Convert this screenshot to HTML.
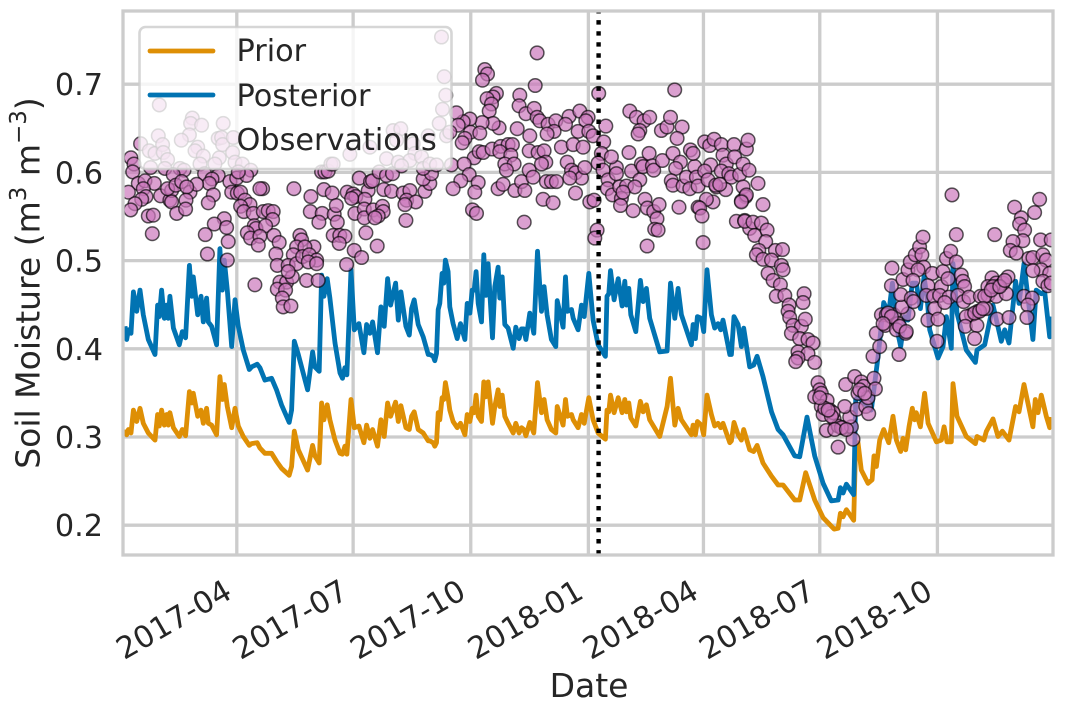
<!DOCTYPE html>
<html lang="en">
<head>
<meta charset="utf-8">
<title>Soil Moisture</title>
<style>
html,body{margin:0;padding:0;background:#fff;width:1065px;height:706px;overflow:hidden}
svg{display:block}
text{font-family:"DejaVu Sans","Liberation Sans",sans-serif;fill:#262626}
</style>
</head>
<body>
<svg id="chart" xmlns="http://www.w3.org/2000/svg" width="1065" height="706" viewBox="0 0 1065 706">
<defs><clipPath id="plot-clip"><rect x="123" y="11" width="930" height="544"/></clipPath></defs>
<g id="grid"></g>
<g id="marks" clip-path="url(#plot-clip)"></g>
<g id="frame"></g>
<g id="yticks"></g>
<g id="xticks"></g>
<text x="589" y="697" font-size="33" text-anchor="middle">Date</text>
<text transform="translate(39.5,283) rotate(-90)" font-size="33" text-anchor="middle">Soil Moisture (m<tspan font-size="23" dy="-13.5">3</tspan><tspan dy="13.5"> m</tspan><tspan font-size="23" dy="-13.5">−3</tspan><tspan dy="13.5">)</tspan></text>
<g>
<rect x="139.5" y="27" width="312" height="142" rx="6" fill="#fff" fill-opacity="0.8" stroke="#ccc" stroke-opacity="0.8" stroke-width="2.6"/>
<line x1="150" x2="213" y1="51" y2="51" stroke="#de8f05" stroke-width="4.8" stroke-linecap="round"/>
<text x="236.5" y="61" font-size="30.3">Prior</text>
<line x1="150" x2="213" y1="95" y2="95" stroke="#0173b2" stroke-width="4.8" stroke-linecap="round"/>
<text x="236.5" y="106" font-size="30.3">Posterior</text>
<text x="236.5" y="150" font-size="30.3">Observations</text>
</g>
</svg>
<script>
const yTickValues = [0.2, 0.3, 0.4, 0.5, 0.6, 0.7];
const yTickLabels = ["0.2", "0.3", "0.4", "0.5", "0.6", "0.7"];
const xTickDays = [89, 180, 272, 364, 454, 545, 637];
const xTickLabels = ["2017-04", "2017-07", "2017-10", "2018-01", "2018-04", "2018-07", "2018-10"];
const eventDay = 372;

const coreDays = [1.6,2.9,4.2,6.25,8.1,10.7,13.3,15.9,19.8,25,27.1,28.4,30.2,32.3,34.1,35.4,36.7,39.4,44,46.4,49,51.9,53.7,55,58.4,61,62.8,65.4,66.7,69.3,73.2,75.8,77.7,79.2,81.6,85,87.6,90.2,94.1,98.8,100.6,105,107.1,111,116.2,120.1,124,130,131.9,134,137.1,144.4,148.3,150.1,153.5,155.3,157.1,159.7,161.8,165.8,169.7,171.7,173.6,175.1,178.3,180.9,184.5,188.4,190.5,193.1,195.2,199.1,201.7,204.3,207,209.3,213.2,215.3,217.4,221.3,223.9,225.7,227.8,230.9,234.8,238.7,
240,242.6,243.9,245.2,246.5,247.8,249.6,250.9,252.2,254.3,255.6,258.2,261.4,264,267.4,269.2,271.3,273.1,274.7,276.2,277.8,280.4,282.2,283.8,285.6,289,290.8,293.4,294.7,296.6,298.6,301.2,305.2,307.2,309.8,311.7,313.5,315.1,318.2,321.3,324.2,327.3,329.4,331.7,335.1,338.5,339.6,344.2,346.1,347.6,350.8,352.1,356,358.6,360.7,364.3,367.7,371.6,377.3,378.6,380,381.3,384.1,387.3,390.4,392.5,393.8,395.6,397.2,401.1,404.7,406.8,409.4,412,419.8,425.6,428.2,431.6,434.2,436.8,444.6,445.9,447.7,449.3,452.4,454.2,456.8,460.2,462.8,465.4,467.5,469.3,474.6,475.9,477.9,481.1,483.7,485.5,490.2];

const priorCore = [.310,.304,.310,.306,.332,.319,.334,.317,.306,.298,.327,.314,.332,.315,.327,.315,.329,.312,.302,.310,.303,.353,.340,.351,.325,.332,.317,.334,.317,.315,.304,.370,.344,.361,.336,.312,.334,.314,.302,.292,.294,.295,.289,.283,.283,.274,.266,.258,.268,.308,.287,.264,.292,.280,.272,.340,.321,.338,.321,.298,.283,.282,.291,.282,.344,.312,.314,.295,.315,.300,.310,.291,.321,.302,.340,.325,.341,.319,.337,.312,.310,.325,.330,.310,.306,.297,
.297,.295,.291,.295,.329,.321,.346,.344,.363,.346,.332,.319,.312,.317,.304,.327,.319,.334,.329,.349,.325,.319,.364,.347,.364,.317,.336,.355,.336,.349,.325,.317,.306,.317,.306,.312,.310,.303,.318,.306,.363,.329,.344,.321,.310,.306,.336,.315,.344,.325,.327,.321,.312,.327,.317,.346,.321,.306,.299,.332,.330,.349,.329,.346,.329,.344,.330,.340,.323,.314,.342,.330,.338,.321,.302,.336,.368,.315,.334,.321,.304,.315,.304,.319,.315,.304,.349,.327,.314,.317,.312,.317,.295,.297,.318,.304,.298,.310,.287];

const posteriorCore = [.427,.412,.423,.419,.466,.444,.468,.440,.412,.395,.451,.438,.468,.436,.451,.436,.461,.425,.406,.421,.414,.496,.461,.483,.440,.461,.432,.459,.432,.427,.406,.515,.468,.502,.468,.404,.457,.427,.400,.378,.381,.384,.380,.366,.368,.355,.338,.318,.332,.410,.395,.355,.398,.381,.376,.485,.461,.481,.459,.408,.374,.368,.380,.372,.491,.423,.430,.397,.429,.419,.432,.397,.449,.427,.481,.451,.476,.434,.466,.427,.417,.447,.457,.429,.415,.395,
.395,.393,.388,.396,.446,.453,.487,.476,.502,.489,.449,.430,.413,.430,.412,.453,.442,.468,.468,.489,.453,.432,.508,.462,.498,.414,.472,.494,.459,.483,.429,.425,.402,.426,.413,.424,.424,.412,.442,.419,.512,.444,.472,.440,.412,.404,.456,.426,.483,.444,.446,.436,.423,.451,.438,.487,.434,.406,.393,.461,.464,.490,.457,.481,.450,.478,.451,.470,.440,.421,.479,.455,.470,.436,.398,.399,.476,.436,.470,.440,.406,.429,.413,.438,.436,.421,.491,.440,.425,.430,.423,.434,.395,.395,.438,.429,.404,.425,.381];

const priorTailDays = [493.3,495.95,500.6,507.2,512.4,516.3,525.4,529.3,534,541,547.6,556.2,559.3,561.1,563.2,565.8,571.5,573.1,574.9,577.5,582.7,585.9,587.4,589.3,591.9,595,598.9,602.3,604.9,608.3,610.1,612.2,614.8,617.4,619.2,620.5,623.7,627,629.7,636.2,640.1,642.2,644.5,647.9,649.2,652.3,659.6,666.7,668,673.4,675.3,680.5,684.4,687.8,693,698.2,700.8,704.7,711.7,713.6,715.7,718.3,722.2,724.8,726.1];
const priorTail = [.285,.292,.272,.257,.247,.247,.230,.230,.261,.230,.210,.197,.198,.215,.211,.219,.207,.295,.295,.264,.249,.253,.280,.268,.298,.310,.295,.325,.298,.285,.300,.287,.313,.334,.321,.329,.313,.351,.317,.296,.298,.313,.296,.296,.362,.325,.302,.294,.302,.298,.308,.322,.302,.308,.298,.336,.330,.361,.313,.344,.329,.349,.325,.312,.324];

const posteriorTailDays = [493.3,495.95,500.6,507.2,512.4,516.3,525.4,529.3,535,541,547.6,554,559.3,561.1,563.2,565.8,571.5,573.1,574.9,585.3,590.6,595,598.9,601.8,604.9,608.3,611.4,614,617.4,620.5,623.7,626.5,628.9,631,637.5,641.4,644,647.9,649.2,652.3,659.6,666.7,668,674,680.5,687,689.6,693,698.2,700.8,704.7,711.7,714.3,718.3,720.9,724.8,726.1];
const posteriorTail = [.383,.393,.370,.330,.310,.304,.280,.279,.324,.280,.249,.229,.230,.244,.238,.248,.236,.344,.347,.332,.393,.454,.442,.476,.427,.404,.438,.434,.476,.476,.447,.483,.461,.423,.391,.404,.438,.402,.498,.442,.400,.386,.400,.406,.451,.410,.423,.408,.478,.453,.498,.412,.468,.464,.466,.415,.438];

const obsDays = [
28.4,54.2,52.9,61.5,78.4,27.6,51.9,45.6,13.8,20.6,
25,31,31.5,34.9,58.4,56.3,62.8,75.3,60.2,71.9,
74.5,77.1,77.9,86.3,85.7,87.6,93.3,21.6,6.2,8.6,
7.6,32.8,44.6,47.7,39.3,100,63.8,74.5,69.6,67.5,
83.6,88.9,96.7,90.2,12,17.2,24.5,15.9,4.2,18,
14.6,9.4,6,29.4,36.7,38,34.9,41.4,45.9,52.4,
57.6,49.8,49.3,38,42,49,19.8,23.7,22.9,70.6,
66.7,85,89.4,92,95.4,99.3,92,94.6,101.9,109.2,
107.1,109.7,113.6,117.5,117,102.7,104,111.5,97.2,99.8,
107.1,105.8,118,122.2,119.6,120.7,79.2,71.4,81,64.4,
82.3,66,81.6,138.4,139.7,135.8,149.3,142.3,133.2,129.2,
135.8,140.5,145.7,151.4,144.9,151.4,103.2,143.6,152.7,122.7,
128,132.4,120.7,127.2,124.6,125.3,131.3,129.2,133.7,147,
157.1,163.6,146.5,155.8,165.2,153.2,167.6,166.8,155.3,157.9,
160.5,162.6,175.4,180,184.8,191.8,182.1,189.2,178.8,193.6,
195.2,200.4,206.1,210.8,204,210,219.2,224.4,221.8,229,
221.3,220.5,236.1,240,234.8,241.3,181.4,188.7,188.7,195.7,
203,203.5,199.6,197,164.4,169.6,173.6,169.1,180.8,186.6,
198.8,190,174.9,211.3,217.3,238.7,227,214,228.3,206.1,
215.3,224.4,233.5,234.8,217.9,177.5,193.1,164.4,
249.1,251.2,252.5,249.9,247.3,253,240,245.2,256.9,323.9,
283,285.1,281.2,322.4,292.1,289.5,284.8,288.2,286.4,310.4,
309.8,315.1,321.6,323.9,326,332.5,338.5,348.9,346.1,337.2,
331.7,357.3,363.8,362,356,364.3,367.7,308.3,318.2,294.2,
289.5,280.9,271.3,266.1,260.8,262.2,255.6,271.8,279.1,267.4,
265.3,274.7,278.6,281.7,288.7,295.5,301.2,304.6,294.7,303.3,
298.6,305.9,299.9,266.8,270.8,264.2,277.8,258.2,275.2,293.4,
297.3,306.5,311.7,314.3,317.7,320.8,317.7,324.7,329.4,330.7,
327.3,342.9,352.1,359.9,347.4,350.8,353.9,358.6,361.2,349.5,
331.2,335.1,339,328.6,336.4,353.9,313.8,273.4,276.5,365.1,
368.5,372.1,377.6,376,374.2,371.6,375.5,379.4,378.9,382.8,
385.9,382,395.8,385.9,388.5,393.8,389.8,389.1,397.7,404.2,
399,400.3,405.5,406.8,411.5,414.1,415.1,421.9,408.3,410.2,
415.1,419.3,417.7,415.9,418.5,409.9,370.8,369,396.4,401.6,
407.6,412,404.2,402.9,421.1,425.5,428.2,437.3,433.4,431.5,
430.2,436,432.3,428.9,430.2,438.1,440.7,447.2,443.3,448.5,
449.8,443.8,445.9,459.7,455,457.6,464.1,461.5,456.3,434.9,
449.8,451.1,452.9,453.7,455,458.9,462.3,468,477.9,469.3,
471.9,478.4,468,473.8,475.8,482.4,485,487.6,488.9,471.4,
485,489.6,487,483.7,479.8,486.3,490.2,463.6,466.7,391.1,
496.7,487.6,483.7,500.6,486.3,492.8,499.3,494.1,503.8,502.7,
510.3,515.8,497.3,495.4,500.6,507.2,504.6,515,516.3,508.5,
514.2,511,517.6,521,520.2,521.5,524.1,530.6,533.7,522.8,
529.3,535.8,539.7,532.7,531.9,528,535.8,528,526.2,541,
543.6,544.9,541,546.2,550.7,546.2,547.6,552.8,556.2,550.2,
559.3,563.2,559.3,569.7,571,568.4,564.5,574.1,580.9,583.3,
565.3,572.3,577.5,579.3,574.9,582.7,587.4,588.5,586.6,591.9,
589.2,593.2,597,602.8,596.3,606.2,604.9,612.2,614,609.3,
608.3,616.6,618.4,607,601,601.5,610.1,614,615.8,619.7,
623.1,625.7,624.9,626.3,621.8,633,617.9,629.6,628.3,634.1,
634.9,629.6,637.5,636.7,641.4,640.1,638.8,645.3,646.1,642.7,
644,647.4,651.8,648.4,651.8,655.7,657,658.3,653.1,657.5,
661.7,670.6,676.5,683,690.9,675.2,668.7,663.5,659.6,658.8,
667.9,666.1,679.7,676.5,683,688.3,692.2,683.6,693,704.7,
711.2,707.8,707,681.8,697.4,702.6,701.3,705.2,703.9,696.1,
694,698.7,713,716.9,717.7,726,708.6,711.7,719.5,722.2,
718.2,711.7,724.8,719.5,723.4,726,684.4,680.5,673.9,666.1,
555.4,548.9,554.1,561.9,556.7,565.8,551.5,544.9,576.2,580.1,
598.4,601,594.5,607.5,612.7,670,672.6,679.1,685.7,689.6];

const obsValues = [
.678,.663,.657,.655,.657,.643,.644,.638,.634,.626,
.623,.633,.624,.616,.630,.626,.620,.618,.611,.611,
.640,.641,.633,.641,.624,.613,.611,.607,.618,.611,
.602,.606,.606,.604,.599,.604,.600,.598,.594,.589,
.591,.595,.598,.602,.589,.592,.589,.583,.579,.574,
.571,.566,.559,.575,.570,.581,.583,.587,.591,.579,
.588,.585,.570,.568,.555,.560,.552,.553,.532,.576,
.567,.579,.578,.579,.570,.565,.563,.557,.555,.583,
.583,.557,.558,.557,.548,.541,.538,.541,.533,.527,
.529,.519,.530,.522,.509,.496,.549,.543,.539,.531,
.523,.509,.502,.530,.525,.517,.517,.517,.508,.496,
.498,.506,.508,.502,.500,.498,.474,.479,.479,.477,
.477,.483,.469,.468,.459,.449,.450,.489,.583,.574,
.582,.578,.557,.555,.554,.545,.545,.564,.602,.602,
.603,.611,.579,.577,.595,.581,.574,.571,.572,.591,
.592,.602,.598,.600,.582,.580,.578,.581,.570,.568,
.547,.565,.580,.589,.594,.600,.555,.560,.550,.559,
.563,.557,.552,.550,.530,.530,.529,.521,.513,.505,
.518,.533,.497,.649,.651,.643,.634,.638,.623,.617,
.613,.615,.619,.606,.609,.622,.630,.611,
.755,.710,.689,.673,.657,.643,.611,.610,.610,.737,
.718,.713,.706,.700,.691,.687,.685,.679,.671,.689,
.677,.668,.674,.664,.660,.656,.660,.665,.656,.648,
.645,.671,.664,.660,.648,.648,.643,.651,.643,.652,
.657,.658,.662,.659,.669,.655,.647,.647,.646,.640,
.635,.618,.625,.624,.628,.631,.633,.633,.625,.621,
.611,.611,.604,.611,.599,.592,.590,.583,.579,.583,
.588,.581,.591,.581,.604,.596,.626,.624,.626,.613,
.611,.630,.633,.630,.613,.604,.601,.595,.607,.595,
.591,.591,.591,.571,.567,.578,.545,.559,.555,.568,
.570,.691,.654,.636,.623,.612,.604,.593,.583,.576,
.607,.619,.624,.600,.585,.586,.572,.564,.603,.593,
.558,.585,.611,.608,.623,.609,.604,.615,.571,.561,
.557,.565,.549,.537,.536,.518,.536,.527,.671,.664,
.660,.664,.649,.645,.649,.653,.664,.653,.640,.695,
.623,.613,.606,.592,.587,.586,.596,.608,.583,.596,
.586,.627,.623,.610,.603,.593,.585,.568,.571,.562,
.562,.561,.552,.522,.636,.632,.639,.633,.633,.621,
.611,.619,.603,.600,.596,.599,.611,.628,.638,.582,
.585,.604,.574,.569,.546,.547,.538,.587,.588,.579,
.589,.576,.568,.565,.546,.545,.544,.530,.536,.523,
.513,.514,.513,.508,.503,.502,.487,.496,.491,.479,
.474,.461,.462,.451,.444,.437,.428,.427,.435,.419,
.413,.412,.408,.464,.454,.398,.396,.391,.387,.386,
.363,.355,.347,.351,.343,.336,.327,.332,.322,.309,
.314,.312,.290,.313,.299,.324,.336,.333,.336,.328,
.361,.370,.364,.359,.351,.346,.368,.356,.393,.404,
.419,.440,.440,.440,.428,.430,.423,.419,.441,.449,
.463,.459,.455,.395,.473,.493,.480,.491,.500,.508,
.517,.528,.508,.494,.491,.487,.479,.473,.462,.461,
.447,.434,.435,.410,.489,.472,.462,.481,.460,.454,
.504,.512,.500,.576,.531,.485,.478,.472,.462,.455,
.460,.461,.462,.461,.464,.447,.444,.440,.438,.427,
.428,.413,.482,.472,.476,.476,.483,.435,.437,.461,
.459,.451,.437,.531,.562,.550,.543,.536,.524,.523,
.513,.510,.556,.571,.525,.525,.504,.505,.508,.502,
.491,.490,.487,.478,.473,.476,.472,.472,.461,.442,
.329,.334,.325,.312,.310,.310,.332,.346,.355,.351,
.442,.438,.430,.427,.421,.444,.447,.468,.472,.479];

const SVGNS = "http://www.w3.org/2000/svg";
const xScale = d => 123 + 1.2785 * d;
const yScale = v => 525.2 - 882 * (v - 0.2);
function mk(tag, attrs, parent) {
  const el = document.createElementNS(SVGNS, tag);
  for (const k in attrs) el.setAttribute(k, attrs[k]);
  parent.appendChild(el);
  return el;
}
const grid = document.getElementById("grid");
const marks = document.getElementById("marks");
const frame = document.getElementById("frame");
const yticks = document.getElementById("yticks");
const xticks = document.getElementById("xticks");

yTickValues.forEach((v, i) => {
  const y = yScale(v);
  const ln = mk("line", {x1: 123, x2: 1053, y1: y, y2: y, stroke: "#ccc", "stroke-width": 3.3}, grid);
  
  
  const t = mk("text", {x: 103, y: y + 11, "font-size": 30.3, "text-anchor": "end"}, yticks);
  t.textContent = yTickLabels[i];
  
  
});
xTickDays.forEach((d, i) => {
  const x = xScale(d);
  const ln = mk("line", {x1: x, x2: x, y1: 11, y2: 555, stroke: "#ccc", "stroke-width": 3.3}, grid);
  
  
  const t = mk("text", {transform: "translate(" + (x - 3) + ",597) rotate(-30)", "font-size": 30.3, "text-anchor": "end"}, xticks);
  t.textContent = xTickLabels[i];
  
  
});

const series = mk("g", {transform: "translate(0,1.3)"}, marks);



function linePath(days, vals) {
  return days.map((d, i) => (i ? "L" : "M") + xScale(d).toFixed(1) + " " + yScale(vals[i]).toFixed(1)).join("");
}
const priorPath = mk("path", {d: linePath(coreDays.concat(priorTailDays), priorCore.concat(priorTail)), fill: "none", stroke: "#de8f05", "stroke-width": 4.8, "stroke-linejoin": "round"}, series);


const postPath = mk("path", {d: linePath(coreDays.concat(posteriorTailDays), posteriorCore.concat(posteriorTail)), fill: "none", stroke: "#0173b2", "stroke-width": 4.8, "stroke-linejoin": "round"}, series);



obsDays.forEach((d, i) => {
  const c = mk("circle", {cx: xScale(d).toFixed(1), cy: yScale(obsValues[i]).toFixed(1), r: 6.8, fill: "#cc78bc", "fill-opacity": 0.7, stroke: "#000", "stroke-opacity": 0.65, "stroke-width": 1.5}, series);
  
  
});

const ev = mk("line", {x1: xScale(eventDay), x2: xScale(eventDay), y1: 554.5, y2: 11, stroke: "#000", "stroke-width": 4.4, "stroke-dasharray": "4.4 6.64"}, marks);



const border = mk("rect", {x: 123, y: 11, width: 930, height: 544, fill: "none", stroke: "#ccc", "stroke-width": 3.3}, frame);


</script>
</body>
</html>
